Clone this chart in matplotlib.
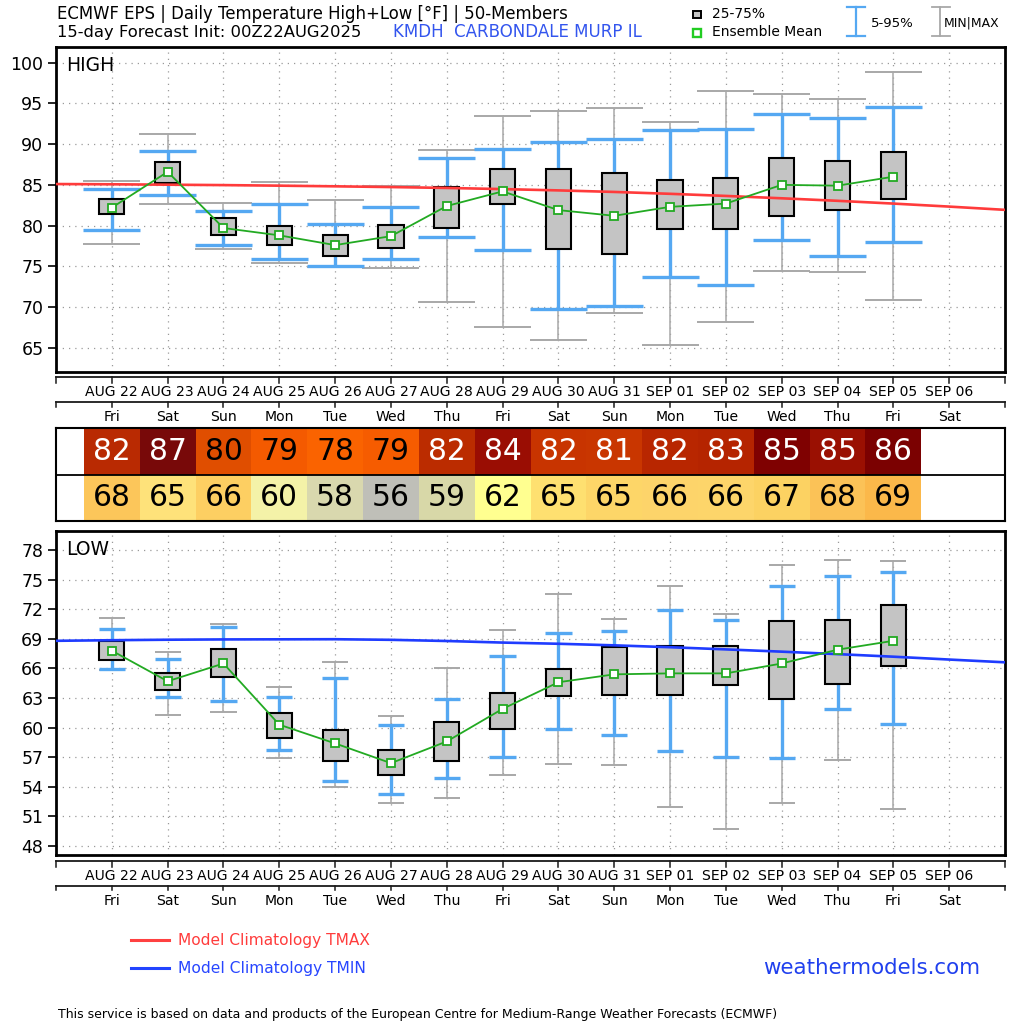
import numpy as np
import matplotlib
matplotlib.use("Agg")
import matplotlib.pyplot as plt
import matplotlib.transforms as mtrans
from matplotlib.lines import Line2D

# ---------------- data ----------------
dates = ["AUG 22", "AUG 23", "AUG 24", "AUG 25", "AUG 26", "AUG 27", "AUG 28", "AUG 29",
         "AUG 30", "AUG 31", "SEP 01", "SEP 02", "SEP 03", "SEP 04", "SEP 05", "SEP 06"]
weekdays = ["Fri", "Sat", "Sun", "Mon", "Tue", "Wed", "Thu", "Fri",
            "Sat", "Sun", "Mon", "Tue", "Wed", "Thu", "Fri", "Sat"]

hi_max  = [85.5, 91.2, 82.8, 85.3, 83.1, 84.9, 89.3, 93.4, 94.1, 94.4, 92.7, 96.5, 96.2, 95.5, 98.9]
hi_p95  = [84.5, 89.2, 81.8, 82.7, 80.2, 82.3, 88.3, 89.4, 90.3, 90.6, 91.7, 91.8, 93.7, 93.2, 94.6]
hi_p75  = [83.3, 87.8, 80.9, 80.0, 78.8, 80.1, 84.7, 86.9, 87.0, 86.4, 85.6, 85.8, 88.3, 87.9, 89.0]
hi_p25  = [81.4, 85.2, 78.8, 77.6, 76.3, 77.3, 79.7, 82.6, 77.1, 76.5, 79.6, 79.6, 81.2, 81.9, 83.3]
hi_mean = [82.2, 86.6, 79.7, 78.8, 77.6, 78.7, 82.4, 84.2, 81.9, 81.2, 82.3, 82.7, 85.0, 84.9, 86.0]
hi_p05  = [79.5, 83.8, 77.6, 75.9, 75.0, 75.9, 78.6, 77.0, 69.8, 70.1, 73.7, 72.7, 78.2, 76.3, 78.0]
hi_min  = [77.7, 82.6, 77.1, 75.4, 74.9, 74.8, 70.6, 67.6, 66.0, 69.3, 65.3, 68.2, 74.4, 74.3, 70.9]

lo_max  = [71.1, 67.7, 70.5, 64.1, 66.7, 61.2, 66.0, 69.9, 73.5, 71.0, 74.4, 71.5, 76.5, 77.0, 76.9]
lo_p95  = [70.0, 67.0, 70.2, 63.1, 65.0, 60.3, 62.9, 67.3, 69.6, 69.8, 71.9, 70.9, 74.4, 75.4, 75.8]
lo_p75  = [68.8, 65.5, 68.0, 61.5, 59.8, 57.7, 60.6, 63.5, 65.9, 68.2, 68.3, 68.3, 70.8, 70.9, 72.4]
lo_p25  = [66.9, 63.8, 65.1, 58.9, 56.6, 55.2, 56.6, 59.9, 63.2, 63.3, 63.3, 64.3, 62.9, 64.4, 66.2]
lo_mean = [67.8, 64.7, 66.5, 60.3, 58.4, 56.4, 58.6, 61.9, 64.6, 65.4, 65.5, 65.5, 66.5, 67.9, 68.8]
lo_p05  = [65.9, 63.1, 62.7, 57.7, 54.6, 53.3, 54.9, 57.0, 59.9, 59.3, 57.6, 57.0, 56.9, 61.9, 60.4]
lo_min  = [65.8, 61.3, 61.6, 56.9, 54.0, 52.4, 52.9, 55.2, 56.3, 56.2, 52.0, 49.7, 52.4, 56.7, 51.8]

clim_days = list(range(-1, 17))
tmax_clim = [85.10, 85.07, 85.02, 84.97, 84.90, 84.82, 84.73, 84.62, 84.48, 84.32,
             84.13, 83.90, 83.64, 83.35, 83.04, 82.70, 82.33, 81.93]
tmin_clim = [68.80, 68.86, 68.91, 68.94, 68.95, 68.96, 68.90, 68.78, 68.62, 68.50,
             68.34, 68.15, 67.93, 67.70, 67.45, 67.19, 66.90, 66.62]

table_high = [82, 87, 80, 79, 78, 79, 82, 84, 82, 81, 82, 83, 85, 85, 86]
table_low = [68, 65, 66, 60, 58, 56, 59, 62, 65, 65, 66, 66, 67, 68, 69]

# ---------------- styles ----------------
high_cell_colors = ["#b92a02", "#780909", "#e04e00", "#f45a00", "#fa6300", "#f65c00", "#bb2c00",
                    "#9a0d03", "#c83400", "#c93600", "#b82600", "#b52400", "#7f0101", "#9a1002", "#7b0101"]
high_text_colors = ["white", "white", "black", "black", "black", "black", "white",
                    "white", "white", "white", "white", "white", "white", "white", "white"]
low_cell_colors = ["#fcc65a", "#fee27a", "#fdcf62", "#f4f2a8", "#d9d8ae", "#bfbfb8", "#d8d8a8",
                   "#ffff90", "#fee070", "#fdd668", "#fdd46a", "#fdd56a", "#fcd262", "#fbc257", "#fbb84a"]

GRAY = "#a8a8a8"
BLUE = "#55a8f2"
GREEN = "#22aa22"
BOXC = "#c4c4c4"

W, H = 1024, 1024
fig = plt.figure(figsize=(W / 100, H / 100), dpi=100)
fig.patch.set_facecolor("white")


def add_axes_px(x0, y0, x1, y1):
    return fig.add_axes([x0 / W, 1 - y1 / H, (x1 - x0) / W, (y1 - y0) / H])


def fy(py):
    return 1 - py / H


XL, XR = 56, 1005
ax_hi = add_axes_px(XL, 47, XR, 372.3)
ax_tb = add_axes_px(XL, 428.3, XR, 520.7)
ax_lo = add_axes_px(XL, 530.5, XR, 855)


def draw_panel(ax, mx, p95, p75, p25, mean, p05, mn, cap_w, ylim, yticks,
               clim, clim_color, label, label_y):
    x = np.arange(len(mean))
    ax.set_xlim(-1, 16)
    ax.set_ylim(*ylim)
    ax.set_yticks(yticks)
    ax.set_xticks(np.arange(len(dates)))
    ax.tick_params(axis="x", length=0, labelbottom=False)
    ax.tick_params(axis="y", length=6, width=1.2, labelsize=12.5, pad=3)
    ax.grid(True, color="#9a9a9a", linestyle=(0, (1, 4)), lw=0.9)
    ax.set_axisbelow(True)
    for s in ax.spines.values():
        s.set_linewidth(2.0)
        s.set_color("black")
    # min/max whiskers
    ax.vlines(x, mn, mx, color=GRAY, lw=1.1, zorder=2)
    ax.hlines(mn, x - cap_w / 2, x + cap_w / 2, color=GRAY, lw=1.4, zorder=2)
    ax.hlines(mx, x - cap_w / 2, x + cap_w / 2, color=GRAY, lw=1.4, zorder=2)
    # 5-95 whiskers
    ax.vlines(x, p05, p95, color=BLUE, lw=2.4, zorder=3)
    ax.hlines(p05, x - cap_w / 2, x + cap_w / 2, color=BLUE, lw=2.4, zorder=3)
    ax.hlines(p95, x - cap_w / 2, x + cap_w / 2, color=BLUE, lw=2.4, zorder=3)
    # 25-75 box
    ax.bar(x, np.array(p75) - np.array(p25), bottom=p25, width=0.45, color=BOXC,
           edgecolor="black", lw=1.5, zorder=4)
    # climatology
    ax.plot(clim_days, clim, color=clim_color, lw=1.9, zorder=5)
    # ensemble mean
    ax.plot(x, mean, color=GREEN, lw=1.3, marker="s", ms=5.5, mfc="white",
            mec=GREEN, mew=1.3, zorder=6)
    ax.text(0.0105, label_y, label, transform=ax.transAxes, ha="left", va="center",
            fontsize=13.5, color="black", zorder=7)


draw_panel(ax_hi, hi_max, hi_p95, hi_p75, hi_p25, hi_mean, hi_p05, hi_min, 1.02,
           (61.98, 101.93), np.arange(65, 101, 5), tmax_clim, "#ff3b3b", "HIGH", 0.944)
draw_panel(ax_lo, lo_max, lo_p95, lo_p75, lo_p25, lo_mean, lo_p05, lo_min, 0.47,
           (47.09, 79.98), np.arange(48, 79, 3), tmin_clim, "#1f3cff", "LOW", 0.941)

# ---------------- table ----------------
xt = np.arange(len(table_high))
ax_tb.set_xlim(-1, 16)
ax_tb.set_ylim(0, 2)
ax_tb.set_xticks([])
ax_tb.set_yticks([])
for s in ax_tb.spines.values():
    s.set_linewidth(1.5)
ax_tb.bar(xt, 1, bottom=1, width=1.0, color=high_cell_colors, lw=0, zorder=1)
ax_tb.bar(xt, 1, bottom=0, width=1.0, color=low_cell_colors, lw=0, zorder=1)
ax_tb.axhline(1, color="black", lw=1.3, zorder=2)
for i, v in enumerate(table_high):
    ax_tb.text(i, 1.5, str(v), ha="center", va="center", fontsize=21.4,
               color=high_text_colors[i], zorder=3)
for i, v in enumerate(table_low):
    ax_tb.text(i, 0.5, str(v), ha="center", va="center", fontsize=21.4,
               color="black", zorder=3)

# ---------------- date strips ----------------
tr = mtrans.blended_transform_factory(ax_hi.transData, fig.transFigure)
tick_pos = np.concatenate([[-1], np.arange(len(dates)), [16]])


def date_strip(y_line1, y_lab1, y_line2, y_lab2):
    for yl, tl in [(y_line1, 6), (y_line2, 4.5)]:
        fig.add_artist(Line2D([-1, 16], [fy(yl), fy(yl)], transform=tr, color="#1a1a1a", lw=1.3))
        for t in tick_pos:
            fig.add_artist(Line2D([t, t], [fy(yl), fy(yl + tl)], transform=tr,
                                  color="#1a1a1a", lw=1.1))
    for i, (d, wd) in enumerate(zip(dates, weekdays)):
        fig.text(i, fy(y_lab1), d, transform=tr, ha="center", va="center", fontsize=10.1)
        fig.text(i, fy(y_lab2), wd, transform=tr, ha="center", va="center", fontsize=10.1)


date_strip(377.3, 392.3, 402.3, 417.3)
date_strip(860.5, 876.0, 885.5, 901.0)

# ---------------- overlay for header / footer ----------------
ov = fig.add_axes([0, 0, 1, 1])
ov.set_xlim(0, W)
ov.set_ylim(H, 0)
ov.axis("off")
ov.patch.set_visible(False)

renderer = fig.canvas.get_renderer()


def fit(t, target):
    w = t.get_window_extent(renderer).width
    t.set_fontsize(t.get_fontsize() * target / w)
    return t


fit(ov.text(57, 14, "ECMWF EPS | Daily Temperature High+Low [°F] | 50-Members",
            ha="left", va="center", fontsize=12), 511)
fit(ov.text(57, 32, "15-day Forecast Init: 00Z22AUG2025", ha="left", va="center",
            fontsize=12), 304)
fit(ov.text(393, 32, "KMDH  CARBONDALE MURP IL", ha="left", va="center",
            fontsize=12, color="#3355ee"), 248)

# legend glyphs
ov.add_patch(plt.Rectangle((693, 10.5), 7.5, 7.5, facecolor=BOXC, edgecolor="black", lw=1.4))
ov.add_patch(plt.Rectangle((693, 29), 7.5, 7.5, facecolor="white", edgecolor="#22cc22", lw=1.7))
fit(ov.text(712, 14.3, "25-75%", ha="left", va="center", fontsize=9), 53)
fit(ov.text(712, 32.3, "Ensemble Mean", ha="left", va="center", fontsize=9), 110)
ov.plot([855.8, 855.8], [7.3, 36], color=BLUE, lw=1.6)
ov.plot([847, 865], [7.3, 7.3], color=BLUE, lw=1.6)
ov.plot([847, 865], [36, 36], color=BLUE, lw=1.6)
t595 = fit(ov.text(871, 23.3, "5-95%", ha="left", va="center", fontsize=9), 43)
ov.plot([940.3, 940.3], [7.3, 36], color=GRAY, lw=1.3)
ov.plot([931.5, 949.5], [7.3, 7.3], color=GRAY, lw=1.3)
ov.plot([931.5, 949.5], [36, 36], color=GRAY, lw=1.3)
ov.text(944, 22.7, "MIN|MAX", ha="left", va="center", fontsize=t595.get_fontsize() * 0.93)

# bottom legend / credits
ov.plot([131, 168.5], [940, 940], color="#ff4040", lw=2.2)
fit(ov.text(178.5, 940, "Model Climatology TMAX", ha="left", va="center",
            fontsize=10, color="#ff3c3c"), 191)
ov.plot([131, 168.5], [968, 968], color="#2244ff", lw=2.2)
fit(ov.text(178.5, 968, "Model Climatology TMIN", ha="left", va="center",
            fontsize=10, color="#2846ff"), 189)
fit(ov.text(763.5, 968, "weathermodels.com", ha="left", va="center",
            fontsize=14, color="#2040ee"), 218)
fit(ov.text(57.5, 1014.5, "This service is based on data and products of the European Centre "
            "for Medium-Range Weather Forecasts (ECMWF)", ha="left", va="center",
            fontsize=9), 718)

fig.savefig("out.png", dpi=100, facecolor="white")
